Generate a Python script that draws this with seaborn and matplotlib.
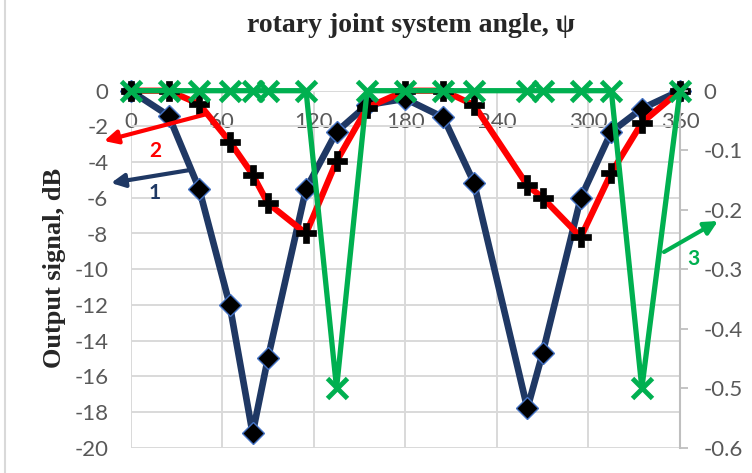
import matplotlib
matplotlib.use("Agg")
import matplotlib.pyplot as plt
import matplotlib.patches as mpatches
import seaborn as sns
import pandas as pd

# values
angle = [0, 25, 45, 65, 80, 90, 115, 135, 155, 180, 205, 225, 260, 270, 295, 315, 335, 360]
signal_1 = [0, -1.4, -5.5, -12.0, -19.2, -15.0, -5.5, -2.3, -0.8, -0.45, -1.5, -5.15, -17.8, -14.7, -6.0, -2.3, -1.0, 0]
signal_2 = [0, 0, -0.75, -2.85, -4.7, -6.3, -8.0, -3.95, -0.95, 0, 0, -0.8, -5.3, -6.0, -8.2, -4.6, -1.8, 0]
signal_3 = [0, 0, 0, 0, 0, 0, 0, -0.5, 0, 0, 0, 0, 0, 0, 0, 0, -0.5, 0]

x_ticks = [0, 60, 120, 180, 240, 300, 360]
left_ticks = list(range(-20, 1, 2))
right_ticks = [0, -0.1, -0.2, -0.3, -0.4, -0.5, -0.6]
right_labels = ["0", "-0.1", "-0.2", "-0.3", "-0.4", "-0.5", "-0.6"]

W, H = 752, 473
navy = "#1f3864"
red = "#ff0000"
green = "#00b050"
grey_txt = "#595959"
grid_c = "#d9d9d9"


def fpos(x, y):
    return (x / W, 1 - y / H)


sns.set_style("white")
plt.rcParams["font.family"] = ["Lato", "DejaVu Sans"]
plt.rcParams["axes.unicode_minus"] = False

df = pd.DataFrame({"angle": angle, "s1": signal_1, "s2": signal_2, "s3": signal_3})

fig = plt.figure(figsize=(W / 100, H / 100), dpi=100)
x0, x1, y0, y1 = 130.5, 680, 90.7, 447.7
ax = fig.add_axes([x0 / W, 1 - y1 / H, (x1 - x0) / W, (y1 - y0) / H])

sns.lineplot(data=df, x="angle", y="s1", ax=ax, color=navy, lw=4.8, marker="D",
             markersize=11.5, markerfacecolor="black", markeredgecolor="#4472c4",
             markeredgewidth=1, clip_on=False, zorder=3)
sns.lineplot(data=df, x="angle", y="s2", ax=ax, color=red, lw=4.5, marker="P",
             markersize=14, markerfacecolor="black", markeredgecolor="black",
             markeredgewidth=0.5, clip_on=False, zorder=4)

ax.set_xlim(0, 360)
ax.set_ylim(-20, 0)
ax.set_xticks(x_ticks)
ax.set_yticks(left_ticks)
ax.set_xlabel("")
ax.set_ylabel("")
ax.grid(True, color=grid_c, lw=1.4)
ax.set_axisbelow(True)
for s in ["top", "left", "right"]:
    ax.spines[s].set_visible(False)
ax.spines["bottom"].set_position(("data", 0))
ax.spines["bottom"].set_color("none")
ax.tick_params(axis="x", length=0, pad=15, labelsize=16, labelcolor=grey_txt)
ax.tick_params(axis="y", length=0, pad=16, labelsize=16, labelcolor=grey_txt)

ax2 = ax.twinx()
sns.lineplot(data=df, x="angle", y="s3", ax=ax2, color=green, lw=3.8, marker="x",
             markersize=14, markeredgewidth=3.5, markeredgecolor=green,
             clip_on=False, zorder=5)
ax2.set_ylim(-0.6, 0)
ax2.set_yticks(right_ticks)
ax2.set_yticklabels(right_labels)
ax2.set_ylabel("")
for s in ["top", "left", "bottom"]:
    ax2.spines[s].set_visible(False)
ax2.spines["right"].set_color("#bfbfbf")
ax2.spines["right"].set_linewidth(1.5)
ax2.tick_params(axis="y", direction="out", length=6, width=1.3, color="#bfbfbf",
                pad=11, labelsize=16, labelcolor=grey_txt)

# curve number arrows
arrows = [((207, 114), (104, 141), "2", (155, 151), red),
          ((190, 170), (111, 183), "1", (155, 193), navy),
          ((664, 252), (718, 221), "3", (693, 259), green)]
for start, tip, lab, lpos, c in arrows:
    fig.add_artist(mpatches.FancyArrowPatch(fpos(*start), fpos(*tip),
                                            transform=fig.transFigure,
                                            arrowstyle="-|>", mutation_scale=20,
                                            lw=3, color=c, shrinkA=0, shrinkB=0))
    fig.text(*fpos(*lpos), lab, color=c, fontsize=15, fontweight="bold",
             ha="center", va="center")

fig.text(*fpos(411, 25), "rotary joint system angle, ψ", ha="center", va="center",
         fontsize=20, fontweight="bold", family=["Liberation Serif", "DejaVu Serif"])
fig.text(*fpos(55, 268), "Output signal, dB", rotation=90, ha="center", va="center",
         fontsize=19, fontweight="bold", family=["Liberation Serif", "DejaVu Serif"])

fig.add_artist(mpatches.Rectangle(fpos(5, H + 20), 1.2, 1.2, transform=fig.transFigure,
                                  fill=False, ec=grid_c, lw=1.5))

fig.savefig("out.png", dpi=100)
